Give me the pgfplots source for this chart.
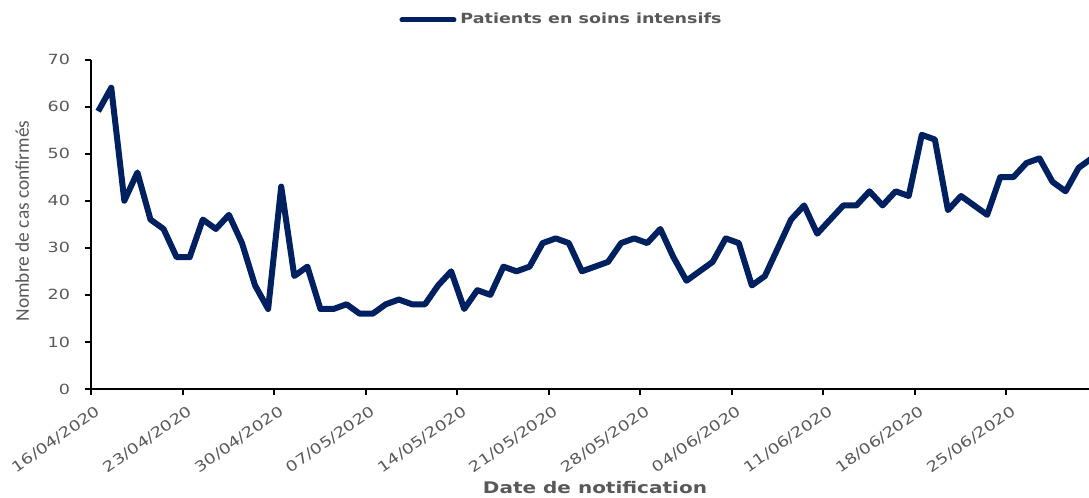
\documentclass[border=0pt]{standalone}
\usepackage{fontspec}
\setmainfont{DejaVu Sans}
\newfontfamily\widefont[FakeStretch=1.25]{DejaVu Sans}
\newfontfamily\carlito{Carlito}
\usepackage{pgfplots}
\usepackage{pgfplotstable}
\pgfplotsset{compat=1.18}
\definecolor{navy}{HTML}{002060}
\definecolor{txt}{HTML}{595959}

\pgfplotstableread{
d v
0 59
1 64
2 40
3 46
4 36
5 34
6 28
7 28
8 36
9 34
10 37
11 31
12 22
13 17
14 43
15 24
16 26
17 17
18 17
19 18
20 16
21 16
22 18
23 19
24 18
25 18
26 22
27 25
28 17
29 21
30 20
31 26
32 25
33 26
34 31
35 32
36 31
37 25
38 26
39 27
40 31
41 32
42 31
43 34
44 28
45 23
46 25
47 27
48 32
49 31
50 22
51 24
52 30
53 36
54 39
55 33
56 36
57 39
58 39
59 42
60 39
61 42
62 41
63 54
64 53
65 38
66 41
67 39
68 37
69 45
70 45
71 48
72 49
73 44
74 42
75 47
76 49
}\icudata

\begin{document}
\begin{tikzpicture}
\begin{axis}[
  name=ax, at={(0,0)}, anchor=south west,
  scale only axis, width=499pt, height=164.75pt,
  xmin=0, xmax=76.34, ymin=0, ymax=70,
  axis lines=left,
  axis line style={-, line width=1pt, black},
  xtick={0,7,...,70},
  xticklabels={16/04/2020,23/04/2020,30/04/2020,07/05/2020,14/05/2020,21/05/2020,28/05/2020,04/06/2020,11/06/2020,18/06/2020,25/06/2020},
  ytick={0,10,...,70},
  tick align=outside,
  major tick length=3pt,
  tick style={black, line width=1pt},
  /pgf/number format/assume math mode=true,
  x tick label style={xshift=3pt, rotate=35, anchor=north east, font=\widefont\fontsize{7.2}{8}\selectfont, text=txt},
  y tick label style={xshift=-4pt, font=\widefont\fontsize{7}{8}\selectfont, text=txt},
  xlabel={Date de notification},
  xlabel style={at={(axis description cs:0.505,-0.30)}, anchor=center, font=\widefont\bfseries\fontsize{8}{9}\selectfont, text=txt},
  ylabel={Nombre de cas confirmés},
  ylabel style={at={(axis description cs:-0.069,0.51)}, anchor=center, rotate=0, font=\carlito\fontsize{9.7}{11}\selectfont, text=txt},
  legend style={at={(axis description cs:0.4725,1.12)}, anchor=center, draw=none, fill=none, font=\widefont\bfseries\fontsize{7}{8}\selectfont, text=txt, inner sep=0pt},
  legend image code/.code={\draw[#1, line width=2.5pt, line cap=round] (0pt,0pt) -- (26pt,0pt);},
  clip=true,
]
\addplot[navy, line width=3pt, line join=round] table[x expr=\thisrow{d}+0.55, y=v]{\icudata};
\addlegendentry{Patients en soins intensifs}
\end{axis}
\pgfresetboundingbox
\path[use as bounding box] (-45.5pt,-54.5pt) rectangle (499pt,194.5pt);
\end{tikzpicture}
\end{document}
